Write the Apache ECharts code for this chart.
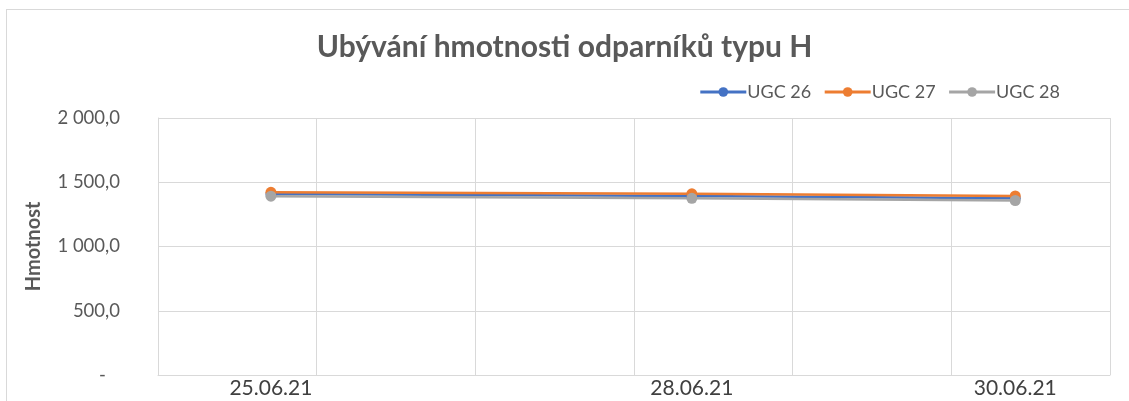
<!DOCTYPE html>
<html>
<head>
<meta charset="utf-8">
<script src="https://cdn.jsdelivr.net/npm/echarts@6/dist/echarts.min.js"></script>
<style>
  html, body { margin: 0; padding: 0; background: #fff; }
  #frame { position: absolute; left: 6px; top: 9px; width: 1140px; height: 400px; border: 1px solid #d9d9d9; }
  #ch-main { position: absolute; left: 0; top: 0; width: 1129px; height: 401px; }
</style>
</head>
<body>
<div id="frame"></div>
<div id="ch-main"></div>
<script>
// measurement dates (day.month.year, hour:minute)
var DAY = 86400000;
var dates = [Date.UTC(2021, 5, 25, 17, 5), Date.UTC(2021, 5, 28, 8, 45), Date.UTC(2021, 5, 30, 9, 40)];
var xMin = Date.UTC(2021, 5, 25);
var xMax = Date.UTC(2021, 6, 1);

var ugc26 = [1408, 1393, 1376];
var ugc27 = [1422, 1410, 1393];
var ugc28 = [1392, 1375, 1358];
var names = ['UGC 26', 'UGC 27', 'UGC 28'];
var colors = ['#4472c4', '#ed7d31', '#a5a5a5'];

function pad(n) { return (n < 10 ? '0' : '') + n; }
function fmtDate(v) {
    var d = new Date(v);
    return pad(d.getUTCDate()) + '.' + pad(d.getUTCMonth() + 1) + '.' + String(d.getUTCFullYear()).slice(2);
}
function fmtNum(v) {
    if (v === 0) return '-   ';
    var s = v.toFixed(1).replace('.', ',');
    var parts = s.split(',');
    return parts[0].replace(/\B(?=(\d{3})+(?!\d))/g, ' ') + ',' + parts[1];
}

var myChart = echarts.init(document.getElementById('ch-main'));

var series = [ugc26, ugc27, ugc28].map(function (vals, i) {
    return {
        name: names[i],
        type: 'line',
        data: vals.map(function (v, j) { return [dates[j], v]; }),
        symbol: 'circle',
        symbolSize: 11,
        lineStyle: { width: 2.5, color: colors[i] },
        itemStyle: { color: colors[i] }
    };
});

var option = {
    animation: false,
    title: {
        text: 'Ubývání hmotnosti odparníků typu H',
        left: 'center',
        top: 27,
        textStyle: { fontFamily: 'Lato', fontSize: 30, fontWeight: 'bold', color: '#595959' }
    },
    legend: {
        right: 64,
        top: 78,
        itemWidth: 46,
        itemHeight: 12,
        itemGap: 12,
        lineStyle: { width: 3 },
        textStyle: { fontFamily: 'Lato', fontSize: 18, color: '#595959', padding: [0, 0, 0, -4] },
        data: names
    },
    grid: { left: 158, right: 19, top: 118, bottom: 26 },
    xAxis: {
        type: 'value',
        min: xMin,
        max: xMax,
        interval: DAY,
        axisLine: { show: true, lineStyle: { color: '#d9d9d9' } },
        axisTick: { show: false },
        splitLine: { show: true, lineStyle: { color: '#d9d9d9', width: 1 } },
        axisLabel: {
            customValues: dates,
            formatter: fmtDate,
            fontFamily: 'Lato',
            fontSize: 21,
            color: '#404040',
            margin: 3
        }
    },
    yAxis: {
        type: 'value',
        min: 0,
        max: 2000,
        interval: 500,
        name: 'Hmotnost',
        nameLocation: 'middle',
        nameGap: 114,
        nameTextStyle: { fontFamily: 'Lato', fontSize: 20, fontWeight: 'bold', color: '#595959' },
        axisLine: { show: true, lineStyle: { color: '#d9d9d9' } },
        axisTick: { show: false },
        splitLine: { show: true, lineStyle: { color: '#d9d9d9', width: 1 } },
        axisLabel: { formatter: fmtNum, fontFamily: 'Lato', fontSize: 18.5, color: '#595959', margin: 38 }
    },
    series: series
};

myChart.setOption(option);
</script>
</body>
</html>
